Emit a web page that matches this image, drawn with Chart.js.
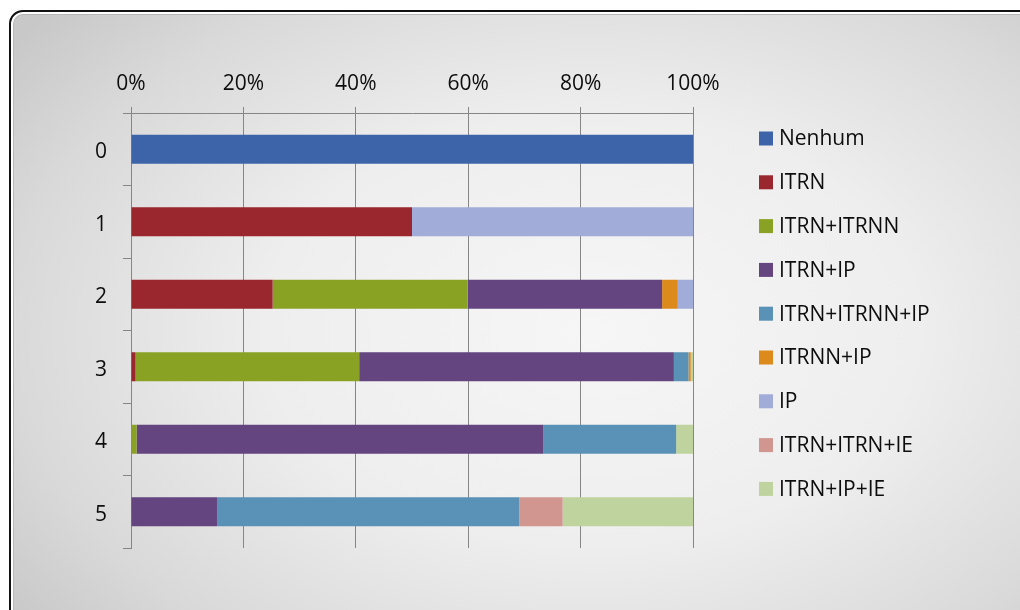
<!DOCTYPE html>
<html>
<head>
<meta charset="utf-8">
<script src="https://cdn.jsdelivr.net/npm/chart.js@4/dist/chart.umd.min.js"></script>
<style>
  html, body { margin: 0; padding: 0; background: #fff; overflow: hidden; }
  #wrap { position: relative; width: 1020px; height: 610px; overflow: hidden; }
  /* rounded chart frame, runs off the right and bottom edge */
  #frame {
    position: absolute; left: 9px; top: 10px; width: 1040px; height: 640px;
    box-sizing: border-box; border: 2px solid #111; border-radius: 14px;
    box-shadow: inset 0 0 0 2px #fff, inset 0 0 0 3px #b8b8b8;
    background: radial-gradient(ellipse 70% 75% at 56% 50%, #f6f6f6 0%, #eeeeee 45%, #d9d9d9 80%, #c8c8c8 100%);
  }
  canvas { position: absolute; left: 0; top: 0; }
</style>
</head>
<body>
<div id="wrap">
  <div id="frame"></div>
  <canvas id="chart" width="1020" height="610"></canvas>
</div>
<script>
(function () {
  "use strict";

  // ── Data ────────────────────────────────────
  var categories = ["0", "1", "2", "3", "4", "5"];
  var xTicks = [0, 20, 40, 60, 80, 100];

  var nenhum      = [100, 0,    0,    0,    0,    0];
  var itrn        = [0,   50, 25.2,  0.8,   0,    0];
  var itrnItrnn   = [0,   0,  34.7, 39.8,  1.0,   0];
  var itrnIp      = [0,   0,  34.6, 56.0, 72.4, 15.3];
  var itrnItrnnIp = [0,   0,    0,   2.6, 23.6, 53.8];
  var itrnnIp     = [0,   0,   2.8,  0.4,   0,    0];
  var ip          = [0,   50,  2.7,   0,    0,    0];
  var itrnItrnIe  = [0,   0,    0,    0,    0,   7.7];
  var itrnIpIe    = [0,   0,    0,   0.4,  3.0, 23.2];

  var series = [
    { label: "Nenhum",        data: nenhum,      color: "#3d64a8" },
    { label: "ITRN",          data: itrn,        color: "#9a262e" },
    { label: "ITRN+ITRNN",    data: itrnItrnn,   color: "#8aa224" },
    { label: "ITRN+IP",       data: itrnIp,      color: "#644580" },
    { label: "ITRN+ITRNN+IP", data: itrnItrnnIp, color: "#5a91b6" },
    { label: "ITRNN+IP",      data: itrnnIp,     color: "#dc8a1c" },
    { label: "IP",            data: ip,          color: "#a1acd8" },
    { label: "ITRN+ITRN+IE",  data: itrnItrnIe,  color: "#d1968f" },
    { label: "ITRN+IP+IE",    data: itrnIpIe,    color: "#bed39d" },
  ];

  var axisGray = "#868686";
  var FONT = "'Open Sans', 'DejaVu Sans', sans-serif";

  Chart.defaults.font.family = FONT;
  Chart.defaults.font.size = 21;
  Chart.defaults.color = "#0d0d0d";

  // ── Legend down the right side ──────────────
  var sideLegend = {
    id: "sideLegend",
    afterDraw: function (chart, args, opts) {
      var ctx = chart.ctx;
      ctx.save();
      ctx.font = "21px " + FONT;
      ctx.textBaseline = "middle";
      ctx.textAlign = "left";
      chart.data.datasets.forEach(function (ds, i) {
        var y = opts.top + i * opts.step;
        ctx.fillStyle = ds.backgroundColor;
        ctx.fillRect(opts.left, y - 7, 14, 14);
        ctx.fillStyle = "#0d0d0d";
        ctx.fillText(ds.label, opts.left + 20, y + 1);
      });
      ctx.restore();
    },
  };

  new Chart(document.getElementById("chart"), {
    type: "bar",
    data: {
      labels: categories,
      datasets: series.map(function (s) {
        return {
          label: s.label,
          data: s.data,
          backgroundColor: s.color,
          borderWidth: 0,
          barPercentage: 1,
          categoryPercentage: 0.4,
        };
      }),
    },
    plugins: [sideLegend],
    options: {
      indexAxis: "y",
      responsive: false,
      animation: false,
      layout: { padding: { top: 0, left: 0, right: 327, bottom: 62 } },
      plugins: {
        legend: { display: false },
        tooltip: { enabled: false },
        sideLegend: { left: 759, top: 138.5, step: 43.8 },
      },
      scales: {
        x: {
          type: "linear",
          position: "top",
          stacked: true,
          min: 0,
          max: 100,
          afterFit: function (scale) { scale.height = 113; },
          afterBuildTicks: function (scale) {
            scale.ticks = xTicks.map(function (v) { return { value: v }; });
          },
          ticks: {
            padding: 10,
            callback: function (v) { return v + "%"; },
          },
          grid: { color: axisGray, lineWidth: 1, tickLength: 6 },
          border: { color: axisGray, width: 1 },
        },
        y: {
          stacked: true,
          afterFit: function (scale) { scale.width = 131; },
          ticks: { padding: 16, labelOffset: 3 },
          grid: {
            offset: true,
            drawOnChartArea: false,
            color: axisGray,
            tickLength: 8,
          },
          border: { color: axisGray, width: 1 },
        },
      },
    },
  });
})();
</script>
</body>
</html>
